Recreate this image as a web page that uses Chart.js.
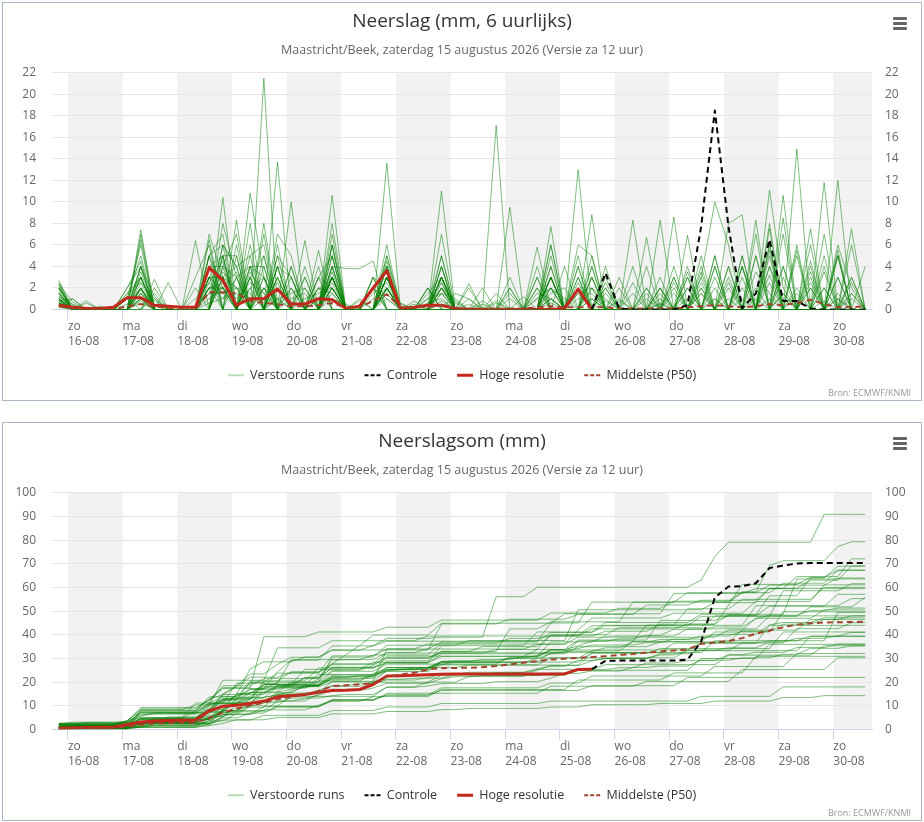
<!DOCTYPE html>
<html lang="nl">
<head>
<meta charset="utf-8">
<title>Neerslagpluim Maastricht/Beek</title>
<script src="https://cdn.jsdelivr.net/npm/chart.js@4.4.1/dist/chart.umd.min.js"></script>
<style>
    body { margin: 0; background: #fff; font-family: "Open Sans", "Noto Sans", sans-serif; }
    .panel { position: absolute; left: 2px; width: 918px; height: 397px; border: 1px solid #a9b7c8; background: #fff; }
    #panelRain { top: 2px; }
    #panelSum { top: 422px; }
    .panel canvas { display: block; }
    .menu { position: absolute; right: 14px; top: 14px; width: 14px; }
    .menu span { display: block; height: 3px; background: #666; margin-bottom: 2px; border-radius: 1px; }
    .credits { position: absolute; right: 10px; bottom: 1px; font-size: 9px; color: #999; }
</style>
</head>
<body>
<div class="panel" id="panelRain">
    <canvas id="rainChart" width="918" height="397"></canvas>
    <div class="menu"><span></span><span></span><span></span></div>
    <div class="credits">Bron: ECMWF/KNMI</div>
</div>
<div class="panel" id="panelSum">
    <canvas id="sumChart" width="918" height="397"></canvas>
    <div class="menu"><span></span><span></span><span></span></div>
    <div class="credits">Bron: ECMWF/KNMI</div>
</div>
<script>
'use strict';

/* ── Tijdas: uren vanaf zo 16-08 00:00, stappen van 6 uur ───────────────── */

const HOURS = [
    -4, 2, 8, 14, 20, 26, 32, 38, 44, 50, 56, 62, 68, 74, 80, 86, 92, 98, 104, 110,
    116, 122, 128, 134, 140, 146, 152, 158, 164, 170, 176, 182, 188, 194, 200, 206, 212, 218, 224, 230,
    236, 242, 248, 254, 260, 266, 272, 278, 284, 290, 296, 302, 308, 314, 320, 326, 332, 338, 344, 350,
];
const DAY_TICKS = [0, 24, 48, 72, 96, 120, 144, 168, 192, 216, 240, 264, 288, 312, 336];
const DAY_NAMES = ['zo', 'ma', 'di', 'wo', 'do', 'vr', 'za', 'zo', 'ma', 'di', 'wo', 'do', 'vr', 'za', 'zo'];
const DAY_DATES = ['16-08', '17-08', '18-08', '19-08', '20-08', '21-08', '22-08', '23-08',
    '24-08', '25-08', '26-08', '27-08', '28-08', '29-08', '30-08'];
const GRAY_DAYS = [0, 2, 4, 6, 8, 10, 12, 14];

const SUBTITLE = 'Maastricht/Beek, zaterdag 15 augustus 2026 (Versie za 12 uur)';

/* ── Hoge resolutie (tot 25-08), controle (vanaf 25-08) en P50 ──────────── */

const HIRES_RAIN = [
    0.4, 0.2, 0.1, 0.1, 0.2, 1.1, 1.1, 0.4, 0.3, 0.2,
    0.2, 3.9, 2.7, 0.4, 1.0, 1.0, 1.9, 0.5, 0.5, 1.0,
    0.9, 0.1, 0.3, 2.0, 3.6, 0.1, 0.2, 0.4, 0.4, 0.1,
    0, 0, 0, 0, 0, 0, 0, 0.1, 1.9, 0,
];
const HIRES_SUM = [
    0.5, 0.7, 0.8, 0.9, 1.0, 2.1, 3.2, 3.6, 3.8, 3.9,
    4.0, 7.9, 9.8, 10.2, 11.0, 12.0, 13.8, 14.3, 14.8, 15.7,
    16.5, 16.6, 16.9, 19.0, 22.6, 22.7, 22.9, 23.1, 23.3, 23.4,
    23.4, 23.4, 23.4, 23.4, 23.4, 23.4, 23.4, 23.5, 25.4, 25.5,
];

const CONTROL_START = 39;   // index in HOURS waar de controle-run begint
const CONTROL_RAIN = [
    0, 3.4, 0.1, 0, 0, 0, 0, 0.4, 7.7, 18.5,
    7.7, 0.1, 1.5, 6.5, 0.8, 0.8, 0.1, 0, 0, 0, 0,
];
const CONTROL_SUM = [
    25.5, 29.0, 29.1, 29.1, 29.1, 29.1, 29.1, 29.5, 37.2, 55.7,
    60.4, 60.5, 61.8, 68.2, 69.3, 70.1, 70.3, 70.3, 70.3, 70.3, 70.3,
];

const P50_RAIN = [
    0.3, 0.1, 0, 0, 0, 0.3, 0.5, 0.3, 0.1, 0,
    0, 1.6, 1.6, 1.5, 0.8, 0.6, 0.5, 0.3, 0.3, 0.4,
    0.6, 0.2, 0.2, 0.8, 1.4, 0.2, 0.2, 0.2, 0.4, 0.1,
    0.1, 0.1, 0.1, 0.1, 0.1, 0.2, 0.3, 0.2, 0.2, 0.2,
    0.2, 0.1, 0.1, 0.1, 0.1, 0.1, 0.2, 0.3, 0.4, 0.3,
    0.2, 0.3, 0.5, 0.4, 0.6, 0.9, 0.5, 0.2, 0.2, 0.3,
];
const P50_SUM = [
    0.4, 0.5, 0.6, 0.6, 0.7, 1.2, 2.0, 2.5, 2.7, 2.8,
    2.9, 4.8, 7.2, 8.8, 10.2, 11.3, 12.8, 13.8, 14.8, 16.2,
    18.3, 18.7, 19.0, 19.6, 22.3, 23.2, 24.0, 25.4, 25.9, 26.0,
    26.1, 26.3, 26.8, 27.5, 28.2, 28.9, 29.6, 29.9, 30.3, 30.6,
    31.0, 31.5, 31.9, 32.5, 32.9, 33.4, 33.8, 36.2, 36.8, 37.3,
    38.6, 40.5, 41.8, 43.2, 44.3, 44.9, 45.2, 45.3, 45.4, 45.5,
];

/* ── Verstoorde runs: [tijdstap, mm per 6 uur]; niet genoemde stappen droog ── */

const MEMBER_EVENTS = [
    [[0, .5], [6, 3], [11, 5], [12, 6], [13, 4], [14, 5], [16, 4], [17, 3], [20, 3], [23, 2], [24, 3], [28, .5], [32, 17.1], [35, 4], [47, 3], [48, 10], [49, 6], [56, 11.8]],
    [[0, 2.7], [5, 1], [6, 5], [11, 4], [12, 5], [15, 21.5], [19, 2], [24, 2], [28, 3], [36, 3], [41, 2], [45, 3], [50, 4], [52, 11.1], [53, 2], [57, 6], [58, 2]],
    [[0, 1], [6, 7.4], [10, 2], [12, 10.4], [16, 13.7], [20, 3], [27, 2], [39, 3], [46, 2], [49, 8], [50, 8.8], [55, 3], [57, 3]],
    [[0, .8], [1, 1], [5, 2], [6, 4], [11, 5], [12, 2], [14, 10.8], [15, 3], [18, 2], [20, 3], [28, 11], [33, 2], [38, 2], [43, 4], [47, 2], [52, 5], [54, 5], [58, 7.5]],
    [[0, 2], [7, 2.8], [10, 6.4], [13, 8.3], [17, 10], [23, 2], [28, 5], [33, 2], [36, 1], [40, 2], [44, 3], [49, 4], [52, 8], [55, 7.5], [57, 5]],
    [[0, 1.5], [6, 6.5], [11, 3], [12, 3], [14, 3], [16, 3], [20, 10.6], [24, 5], [30, 2], [38, 13], [48, 3], [52, 6], [55, 3.5], [58, 6]],
    [[0, .5], [6, 2], [12, 6], [13, 4], [15, 8], [19, 5.5], [24, 4], [28, 3], [33, 9.5], [36, 3], [42, 8.3], [50, 4], [53, 4], [57, 5.5]],
    [[0, 2.3], [5, 1], [6, 6], [11, 3], [12, 5], [16, 7], [17, 5], [20, 6], [24, 2], [36, 7.7], [39, 8.8], [46, 4], [52, 3.2], [57, 3]],
    [[0, 1], [11, 4], [12, 3], [14, 5], [15, 6], [18, 6.4], [23, 3], [28, 7], [35, 5.8], [40, 4], [47, 3.5], [54, 14.9]],
    [[0, .6], [5, 2], [6, 4.5], [12, 8], [13, 3], [14, 4], [17, 2], [20, 7], [24, 3], [27, 2], [38, 6], [39, 5], [45, 2], [51, 5], [56, 7]],
    [[0, 2.5], [6, 2], [11, 6.5], [14, 3], [15, 5], [20, 4], [24, 6], [28, 4], [31, 2], [36, 5], [41, 3], [48, 5], [53, 10.6], [58, 3]],
    [[0, .3], [1, 1], [7, 2], [11, 4], [13, 6], [16, 5], [19, 3], [20, 5], [24, 2], [28, 2.5], [35, 3], [38, 4], [44, 8.3], [49, 2], [52, 4], [57, 5]],
    [[0, 1.8], [6, 3], [12, 5], [13, 5], [16, 4], [18, 3], [20, 6], [24, 4.5], [32, 1.5], [36, 6], [39, 4], [47, 4], [55, 4], [59, 4]],
    [[0, .4], [6, 7], [11, 3], [12, 2], [14, 8], [17, 4], [20, 3], [24, 3], [28, 2], [38, 5], [43, 6.7], [46, 6.9], [50, 4], [56, 5]],
    [[0, 2], [5, 1.5], [6, 3], [11, 5], [12, 7], [15, 3], [20, 8], [24, 3], [27, 1.5], [28, 3], [36, 4], [40, 3], [51, 8.3], [58, 3]],
    [[0, .8], [6, 4], [10, 3], [11, 6], [14, 6], [16, 4], [20, 4], [21, 3.8], [22, 3.8], [23, 4.5], [28, 5], [37, 4], [45, 8.6], [51, 2]],
    [[0, 1.2], [6, 3], [12, 4], [13, 7], [15, 4], [19, 4], [24, 3], [28, 2], [35, 2], [39, 3], [42, 4], [48, 4], [53, 8.5]],
    [[0, 1], [6, 2], [11, 7], [12, 3], [14, 4], [17, 3], [20, 5], [23, 2], [24, 4], [36, 6], [40, 2.5], [46, 3], [52, 5.5]],
    [[0, 2.2], [2, .8], [6, 4], [12, 6], [15, 5], [18, 4], [20, 4], [24, 2], [28, 4], [38, 3], [44, 2], [50, 5], [55, 4.5]],
    [[0, .6], [5, 1], [6, 3], [11, 4], [12, 4], [14, 3], [16, 3], [20, 6], [24, 3], [33, 3], [36, 3], [47, 3], [54, 6], [58, 2.5]],
    [[0, 1.5], [6, 1], [11, 3], [13, 5], [15, 7], [19, 3], [23, 3], [24, 2], [28, 3], [39, 4], [45, 4], [52, 7.5]],
    [[0, .4], [6, 2], [12, 3], [13, 4], [16, 6], [20, 5], [24, 13.6], [35, 2], [38, 3], [49, 3], [51, 5], [56, 3.5]],
    [[0, 1], [7, 1.5], [11, 5], [14, 4], [15, 4], [18, 3], [20, 3], [24, 3], [28, 4], [36, 4], [48, 5], [57, 12]],
    [[0, .7], [6, 3.5], [12, 4], [13, 3], [16, 5], [17, 3], [20, 3], [24, 4], [30, 1], [39, 5], [44, 2], [53, 7]],
    [[0, 1.3], [6, 1.5], [8, 2.5], [11, 3], [12, 3], [14, 4], [15, 3], [20, 4], [24, 3], [28, 2], [36, 3], [46, 3], [55, 6]],
    [[0, .5], [6, 2.5], [12, 5], [16, 4], [19, 3], [20, 2], [23, 3], [28, 3], [38, 2], [47, 5], [52, 6]],
    [[0, 2], [5, 1], [11, 2], [12, 2], [14, 3], [17, 4], [24, 4], [27, 2], [30, 2.4], [35, 3], [40, 2], [49, 4], [56, 4]],
    [[0, .6], [6, 1], [11, 2], [13, 3], [15, 3], [20, 3], [24, 2], [28, 3], [36, 2], [39, 3], [48, 4], [54, 5.5]],
    [[0, .9], [7, 1], [12, 3], [14, 2], [16, 3], [20, 2], [23, 2], [28, 3], [38, 4], [45, 3], [51, 7]],
    [[0, .3], [6, 1.5], [11, 2], [12, 2.5], [15, 2], [19, 2], [20, 2], [24, 3], [36, 3], [43, 2], [50, 5], [57, 5]],
    [[0, 1.5], [6, 1], [12, 3], [13, 2], [16, 2], [20, 3], [24, 2], [28, 2], [39, 2], [46, 3.5]],
    [[0, .4], [6, .6], [11, 1.5], [12, 1.5], [15, 2], [20, 2], [24, 1.5], [28, 1.5], [36, 1], [47, 2], [53, 4]],
    [[0, 1.2], [1, .5], [5, 1.5], [6, 2.5], [7, 1], [11, 2], [12, 3.5], [13, 2], [14, 1.5], [16, 2], [19, 1], [20, 2.5], [23, 1.5], [24, 2.5], [26, .8], [28, 1.5], [29, 1], [33, 1.5], [36, 2], [37, 1], [40, 1.5], [42, 2.5], [44, 1], [47, 1.5], [50, 2], [53, 3], [56, 2], [58, 1.5]],
    [[0, .5], [2, .6], [6, 1.8], [10, 1], [11, 2.5], [12, 4.5], [14, 2], [15, 3], [17, 1], [18, 1.5], [20, 3.5], [22, 1], [24, 1.8], [25, .6], [27, 1], [28, 2.5], [31, .8], [34, 1.2], [36, 3], [38, 1.5], [39, 2], [41, 1], [43, 1.5], [45, 2.5], [48, 1], [51, 3.5], [52, 1.5], [55, 2], [57, 1]],
    [[0, 2], [1, .4], [6, 1], [7, .8], [11, 1.5], [12, 2], [13, 3.5], [15, 1], [16, 2.5], [19, 2], [20, 1.5], [23, 2], [24, 1], [26, .5], [29, 1.5], [30, 1], [35, 1.5], [36, 1], [38, 2.5], [40, .8], [44, 1.5], [46, 2], [49, 1], [52, 2.5], [54, 1.5], [57, 1]],
    [[0, .8], [5, .5], [6, 2], [11, 1], [12, 2], [14, 3.5], [15, 1.5], [17, 2], [20, 1], [21, .5], [24, 3], [27, .6], [28, 1], [32, .8], [36, 1.5], [37, 2], [39, 1], [42, 1.5], [44, .6], [47, 2.5], [50, 1], [53, 1.5], [55, 2.5], [58, 1]],
    [[0, 1.6], [3, .3], [6, 4], [7, 1.2], [11, 3], [12, 1.5], [13, 2], [16, 1], [17, 1.5], [18, 2], [20, 2], [24, 5], [25, .5], [28, 3], [29, .6], [33, 1], [35, 1], [36, 2], [38, 1], [39, 1.5], [43, 1], [45, 1.5], [48, 2], [52, 4], [53, 1], [56, 2]],
    [[0, .2], [6, .8], [11, .6], [12, 1], [13, 1.5], [16, 1], [20, 1.5], [24, 1], [28, .8], [30, .5], [36, .6], [39, 1], [44, .5], [48, 1], [53, 1.5], [56, .8]],
    [[0, 1], [6, 1.5], [7, .5], [11, 2], [12, 2], [13, 1], [14, 2.5], [15, 1.5], [18, 1], [19, 1.5], [20, 2], [23, 1], [24, 2], [28, 2], [29, .8], [31, .5], [36, 1], [38, 1.5], [41, .8], [43, 2], [46, 1], [49, 2.5], [51, 1], [54, 2], [57, 1.5]],
    [[0, 2.4], [1, .7], [6, 2], [11, 2.5], [12, 1], [13, 3], [15, 2], [16, 1], [19, 1], [20, 3], [22, .8], [24, 1.5], [27, 1], [28, 1.5], [32, .6], [35, 1], [36, 2], [39, 2], [40, 1], [44, 2], [47, 1.5], [50, 3], [52, 1], [55, 2], [58, 1.5]],
];

/* ── Stijl ───────────────────────────────────────────────────────────────── */

const ENS_COLOR = 'rgba(0, 128, 0, 0.5)';
const ENS_LEGEND = 'rgba(0, 128, 0, 0.28)';
const AXIS_COLOR = '#ccd6eb';

Chart.defaults.font.family = '"Open Sans", "Noto Sans", sans-serif';
Chart.defaults.color = '#666';

/* ── Helpers ─────────────────────────────────────────────────────────────── */

function memberRain(events) {
    const rain = HOURS.map(() => 0);
    events.forEach(([k, mm]) => { rain[k] = mm; });
    return rain;
}

function cumulate(values) {
    let sum = 0;
    return values.map(v => Math.round((sum += v) * 10) / 10);
}

function toPoints(values, start = 0) {
    return values.map((v, i) => ({ x: HOURS[start + i], y: v }));
}

// grijze dagbanden achter het raster
const dayBands = {
    id: 'dayBands',
    beforeDraw(chart) {
        const { ctx, chartArea: a, scales: { x } } = chart;
        ctx.save();
        ctx.fillStyle = '#f2f2f2';
        GRAY_DAYS.forEach(d => {
            const x0 = Math.max(x.getPixelForValue(d * 24), a.left);
            const x1 = Math.min(x.getPixelForValue(d * 24 + 24), a.right);
            if (x1 > x0) ctx.fillRect(x0, a.top, x1 - x0, a.bottom - a.top);
        });
        ctx.restore();
    },
};

function buildDatasets(members, control, hires, p50) {
    const sets = members.map(vals => ({
        label: 'Verstoorde runs',
        data: toPoints(vals),
        borderColor: ENS_COLOR,
        legendColor: ENS_LEGEND,
        borderWidth: 1,
        order: 3,
    }));
    sets.push({ label: 'Controle', data: toPoints(control, CONTROL_START), borderColor: '#000', borderWidth: 2, borderDash: [6, 4], order: 0 });
    sets.push({ label: 'Hoge resolutie', data: toPoints(hires), borderColor: '#c4271c', borderWidth: 3, order: 2 });
    sets.push({ label: 'Middelste (P50)', data: toPoints(p50), borderColor: '#a3432e', borderWidth: 2, borderDash: [6, 4], order: 1 });
    return sets;
}

function makeChart(canvasId, title, yMax, yStep, datasets) {
    const memberCount = MEMBER_EVENTS.length;
    const yAxis = (position, padding) => ({
        position,
        min: 0,
        max: yMax,
        afterFit: s => { s.width = 49; },
        grid: position === 'left' ? { color: '#e6e6e6', drawTicks: false } : { display: false, drawTicks: false },
        border: { display: false },
        ticks: { stepSize: yStep, padding, color: '#666', font: { size: 12 } },
    });

    return new Chart(document.getElementById(canvasId), {
        type: 'line',
        data: { datasets },
        plugins: [dayBands],
        options: {
            responsive: false,
            animation: false,
            events: [],
            layout: { padding: { left: 0, right: 0, top: 0, bottom: 8.5 } },
            elements: {
                point: { radius: 0 },
                line: { tension: 0, borderJoinStyle: 'round', fill: false },
            },
            plugins: {
                title: { display: true, text: title, color: '#333', font: { size: 19, weight: 'normal' }, padding: { top: 7, bottom: 10 } },
                subtitle: { display: true, text: SUBTITLE, color: '#666', font: { size: 12.5 }, padding: { top: 0, bottom: 15 } },
                tooltip: { enabled: false },
                legend: {
                    position: 'bottom',
                    labels: {
                        usePointStyle: true,
                        pointStyleWidth: 16,
                        color: '#333',
                        font: { size: 12.5 },
                        padding: 20,
                        generateLabels: chart => chart.data.datasets.map((ds, i) => ({
                            text: ds.label,
                            datasetIndex: i,
                            strokeStyle: ds.legendColor || ds.borderColor,
                            fillStyle: ds.borderColor,
                            lineWidth: Math.max(ds.borderWidth, 2),
                            lineDash: ds.borderDash ? [4, 2] : [],
                            pointStyle: 'line',
                            fontColor: '#333',
                            hidden: false,
                        })),
                        filter: item => item.datasetIndex === 0 || item.datasetIndex >= memberCount,
                        sort: (a, b) => a.datasetIndex - b.datasetIndex,
                    },
                },
            },
            scales: {
                x: {
                    type: 'linear',
                    min: -7,
                    max: 353,
                    afterBuildTicks: s => { s.ticks = DAY_TICKS.map(v => ({ value: v })); },
                    afterFit: s => { s.height = 39.5; },
                    grid: { drawOnChartArea: false, drawTicks: true, tickLength: 10, color: AXIS_COLOR },
                    border: { color: AXIS_COLOR },
                    ticks: {
                        align: 'start',
                        autoSkip: false,
                        maxRotation: 0,
                        padding: 0,
                        color: '#666',
                        font: { size: 12, lineHeight: 1.2 },
                        callback: v => {
                            const i = DAY_TICKS.indexOf(v);
                            return i < 0 ? '' : [DAY_NAMES[i], DAY_DATES[i]];
                        },
                    },
                },
                y: yAxis('left', 16),
                y2: yAxis('right', 13),
            },
        },
    });
}

/* ── Opbouw ──────────────────────────────────────────────────────────────── */

const memberRainSeries = MEMBER_EVENTS.map(memberRain);
const memberSumSeries = memberRainSeries.map(cumulate);

makeChart('rainChart', 'Neerslag (mm, 6 uurlijks)', 22, 2,
    buildDatasets(memberRainSeries, CONTROL_RAIN, HIRES_RAIN, P50_RAIN));
makeChart('sumChart', 'Neerslagsom (mm)', 100, 10,
    buildDatasets(memberSumSeries, CONTROL_SUM, HIRES_SUM, P50_SUM));
</script>
</body>
</html>
